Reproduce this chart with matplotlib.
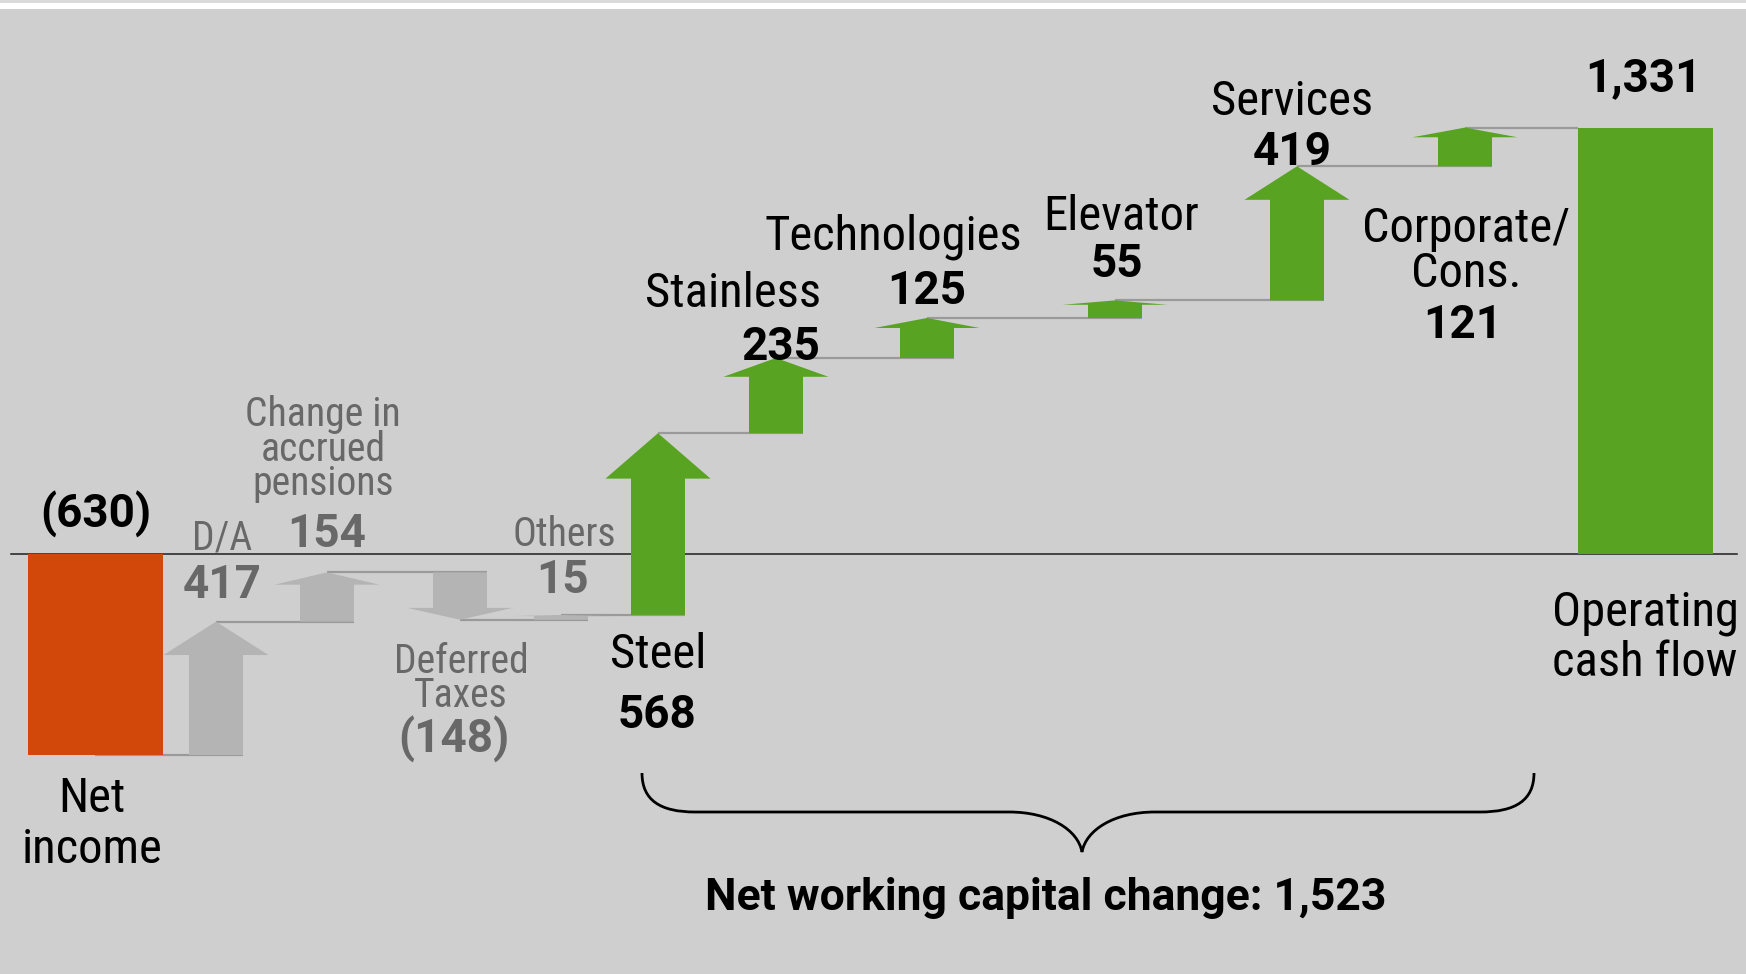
import os
import re

import matplotlib
matplotlib.use("Agg")
import matplotlib.pyplot as plt
from matplotlib import font_manager as fm
from matplotlib.patches import FancyArrow, PathPatch, Rectangle
from matplotlib.path import Path
from matplotlib.transforms import Affine2D

# ---------------------------------------------------------------- data
categories = ["Net income", "D/A", "Change in accrued pensions", "Deferred Taxes",
              "Others", "Steel", "Stainless", "Technologies", "Elevator",
              "Services", "Corporate/Cons.", "Operating cash flow"]
category_lines = [["Net", "income"], ["D/A"], ["Change in", "accrued", "pensions"],
                  ["Deferred", "Taxes"], ["Others"], ["Steel"], ["Stainless"],
                  ["Technologies"], ["Elevator"], ["Services"],
                  ["Corporate/", "Cons."], ["Operating", "cash flow"]]
start_value = -630                       # net income
non_cash_changes = [417, 154, -148, 15]  # D/A, pensions, deferred taxes, others
nwc_changes = [568, 235, 125, 55, 419, 121]  # net working capital by segment
end_value = 1331                         # operating cash flow
value_labels = ["(630)", "417", "154", "(148)", "15", "568", "235", "125",
                "55", "419", "121", "1,331"]
nwc_total_label = "Net working capital change: 1,523"

# ---------------------------------------------------------------- layout
W, H, DPI = 1746, 974, 100
slot_x = [95, 216, 327, 460, 561, 658, 776, 927, 1115, 1297, 1465, 1645]
bar_w = 135
shaft_w = 54
head_w = 105
head_frac = 0.25
zero_px = 553.5
px_per_unit = 0.32

name_x = [92, 222, 323, 461, 564, 658, 733, 893, 1121, 1292, 1466, 1645]
name_base = [[812, 863], [549], [426, 461, 495], [673, 707], [546], [668],
             [307], [249], [230], [115], [242, 287], [625, 676]]
value_x = [96, 222, 327, 454, 562, 657, 781, 927, 1117, 1292, 1463, 1643]
value_base = [528, 598, 547, 753, 593, 728, 360, 304, 277, 165, 338, 91]

BG = "#cfcfcf"
ORANGE = "#d1480a"
GREEN = "#58a422"
GREY_ARROW = "#b4b4b4"
GREY_TEXT = "#686868"
CONNECTOR = "#9a9a9a"


# ---------------------------------------------------------------- fonts
def _norm(path):
    return re.sub(r"[^a-z]", "", os.path.splitext(os.path.basename(path))[0].lower())


_FILES = sorted({f.fname for f in fm.fontManager.ttflist})


def find_face(keys, rests):
    for key in keys:
        for path in _FILES:
            n = _norm(path)
            if n.startswith(key) and n[len(key):] in rests:
                return path
    return None


_COND = ["robotocondensed", "notosanscondensed", "liberationsansnarrow",
         "dejavusanscondensed", "opensanscondensed"]
_reg_path = find_face(_COND, ("", "regular"))
_bold_path = find_face(["roboto"], ("bold",)) or find_face(_COND, ("bold",))


def font(size, bold=False):
    path = _bold_path if bold else _reg_path
    if path:
        return fm.FontProperties(fname=path, size=size)
    return fm.FontProperties(family=["Roboto", "DejaVu Sans"], size=size * 0.9,
                             weight="bold" if bold else "normal")


# ---------------------------------------------------------------- figure
fig = plt.figure(figsize=(W / DPI, H / DPI), dpi=DPI, facecolor=BG)
# pixel transform: x right, y down from the top-left corner
T = Affine2D().scale(1 / W, -1 / H).translate(0, 1) + fig.transFigure

fig.patches.append(Rectangle((0, 0), W, 9, transform=T, facecolor="white",
                             edgecolor="none", zorder=0))
fig.patches.append(Rectangle((0, 0), W, 3, transform=T, facecolor="#dadada",
                             edgecolor="none", zorder=0))

ax = fig.add_axes([0, 0, 1, 1])
ax.set_facecolor("none")
ax.axis("off")
ax.set_xlim(0, W)
ax.set_ylim(-(H - zero_px) / px_per_unit, zero_px / px_per_unit)

# running totals
steps = non_cash_changes + nwc_changes
levels = [start_value]
for s in steps:
    levels.append(levels[-1] + s)

# start and end bars
ax.bar(slot_x[0], start_value, width=bar_w, color=ORANGE, zorder=3, linewidth=0)
ax.bar(slot_x[-1], end_value, width=bar_w, color=GREEN, zorder=3, linewidth=0)

# change arrows
for i, step in enumerate(steps):
    x = slot_x[i + 1]
    base = levels[i]
    color = GREY_ARROW if i < len(non_cash_changes) else GREEN
    arrow = FancyArrow(x, base, 0, step, width=shaft_w, head_width=head_w,
                       head_length=abs(step) * head_frac,
                       length_includes_head=True, color=color, linewidth=0,
                       zorder=3)
    ax.add_patch(arrow)

# connector lines between consecutive marks
for i in range(1, len(slot_x)):
    level = levels[i - 1]
    x_to = slot_x[i] + shaft_w / 2 if i < len(slot_x) - 1 else slot_x[i] - bar_w / 2
    ax.hlines(level, slot_x[i - 1], x_to, color=CONNECTOR, linewidth=1.6, zorder=1)

# zero line
ax.axhline(0, xmin=11 / W, xmax=1737 / W, color="#1e1e1e", linewidth=1.1, zorder=2)

# category names and values
for i, lines in enumerate(category_lines):
    grey = 1 <= i <= len(non_cash_changes)
    col = GREY_TEXT if grey else "black"
    size = 28.5 if grey else 35
    for line, yb in zip(lines, name_base[i]):
        ax.text(name_x[i], yb, line, transform=T, ha="center", va="baseline",
                color=col, fontproperties=font(size))
    ax.text(value_x[i], value_base[i], value_labels[i], transform=T,
            ha="center", va="baseline", color=col,
            fontproperties=font(33, bold=True))

# brace under the working-capital segments
verts = [(642, 773), (642, 800), (660, 812), (695, 812),
         (1009, 812),
         (1050, 812), (1078, 830), (1082, 852),
         (1086, 830), (1114, 812), (1155, 812),
         (1480, 812),
         (1516, 812), (1534, 800), (1534, 773)]
codes = [Path.MOVETO, Path.CURVE4, Path.CURVE4, Path.CURVE4,
         Path.LINETO,
         Path.CURVE4, Path.CURVE4, Path.CURVE4,
         Path.CURVE4, Path.CURVE4, Path.CURVE4,
         Path.LINETO,
         Path.CURVE4, Path.CURVE4, Path.CURVE4]
ax.add_patch(PathPatch(Path(verts, codes), transform=T, facecolor="none",
                       edgecolor="black", linewidth=2.0, zorder=4))
ax.text(1046, 910, nwc_total_label, transform=T, ha="center", va="baseline",
        color="black", fontproperties=font(32, bold=True))

fig.savefig("out.png", dpi=DPI, facecolor=BG)
